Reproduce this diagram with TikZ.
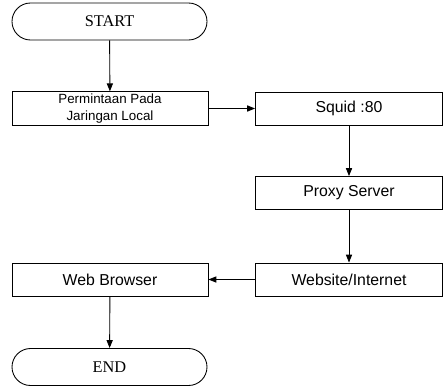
\documentclass[tikz,border=0pt]{standalone}
\usepackage{fontspec}
\setmainfont{Liberation Serif}
\setsansfont{Liberation Sans}
\usetikzlibrary{arrows.meta}
\begin{document}
\begin{tikzpicture}[font=\sffamily\fontsize{9}{10.5}\selectfont, line width=0.5pt, >={Triangle[length=4.5pt,width=3.5pt]},
	prosesbox/.style={draw, rectangle, minimum width=3.8cm, minimum height=0.66cm, align=center, inner sep=1pt},
	terminal/.style={draw, rectangle, rounded corners=0.37cm, minimum width=3.9cm, minimum height=0.74cm, font=\rmfamily\fontsize{9.3}{11}\selectfont}]
	\useasboundingbox (0,0) rectangle (8.96,-7.74);
	\node[terminal] (start) at (2.19,-0.43){START};
	\node[prosesbox, minimum width=3.92cm, font=\sffamily\fontsize{7.6}{10}\selectfont] (minta) at (2.2,-2.17){Permintaan Pada\\Jaringan Local};
	\node[prosesbox, minimum width=3.74cm] (squid) at (6.98,-2.17){Squid :80};
	\node[prosesbox, minimum width=3.74cm] (proxy) at (6.98,-3.86){Proxy Server};
	\node[prosesbox, minimum width=3.74cm] (website) at (6.98,-5.59){Website/Internet};
	\node[prosesbox, minimum width=3.92cm] (browser) at (2.2,-5.59){Web Browser};
	\node[terminal] (end) at (2.19,-7.34){END};
	\draw[->] (start) -- (minta);
	\draw[->] (minta) -- (squid);
	\draw[->] (squid) -- (proxy);
	\draw[->] (proxy) -- (website);
	\draw[->] (website) -- (browser);
	\draw[->] (browser) -- (end);
\end{tikzpicture}
\end{document}
